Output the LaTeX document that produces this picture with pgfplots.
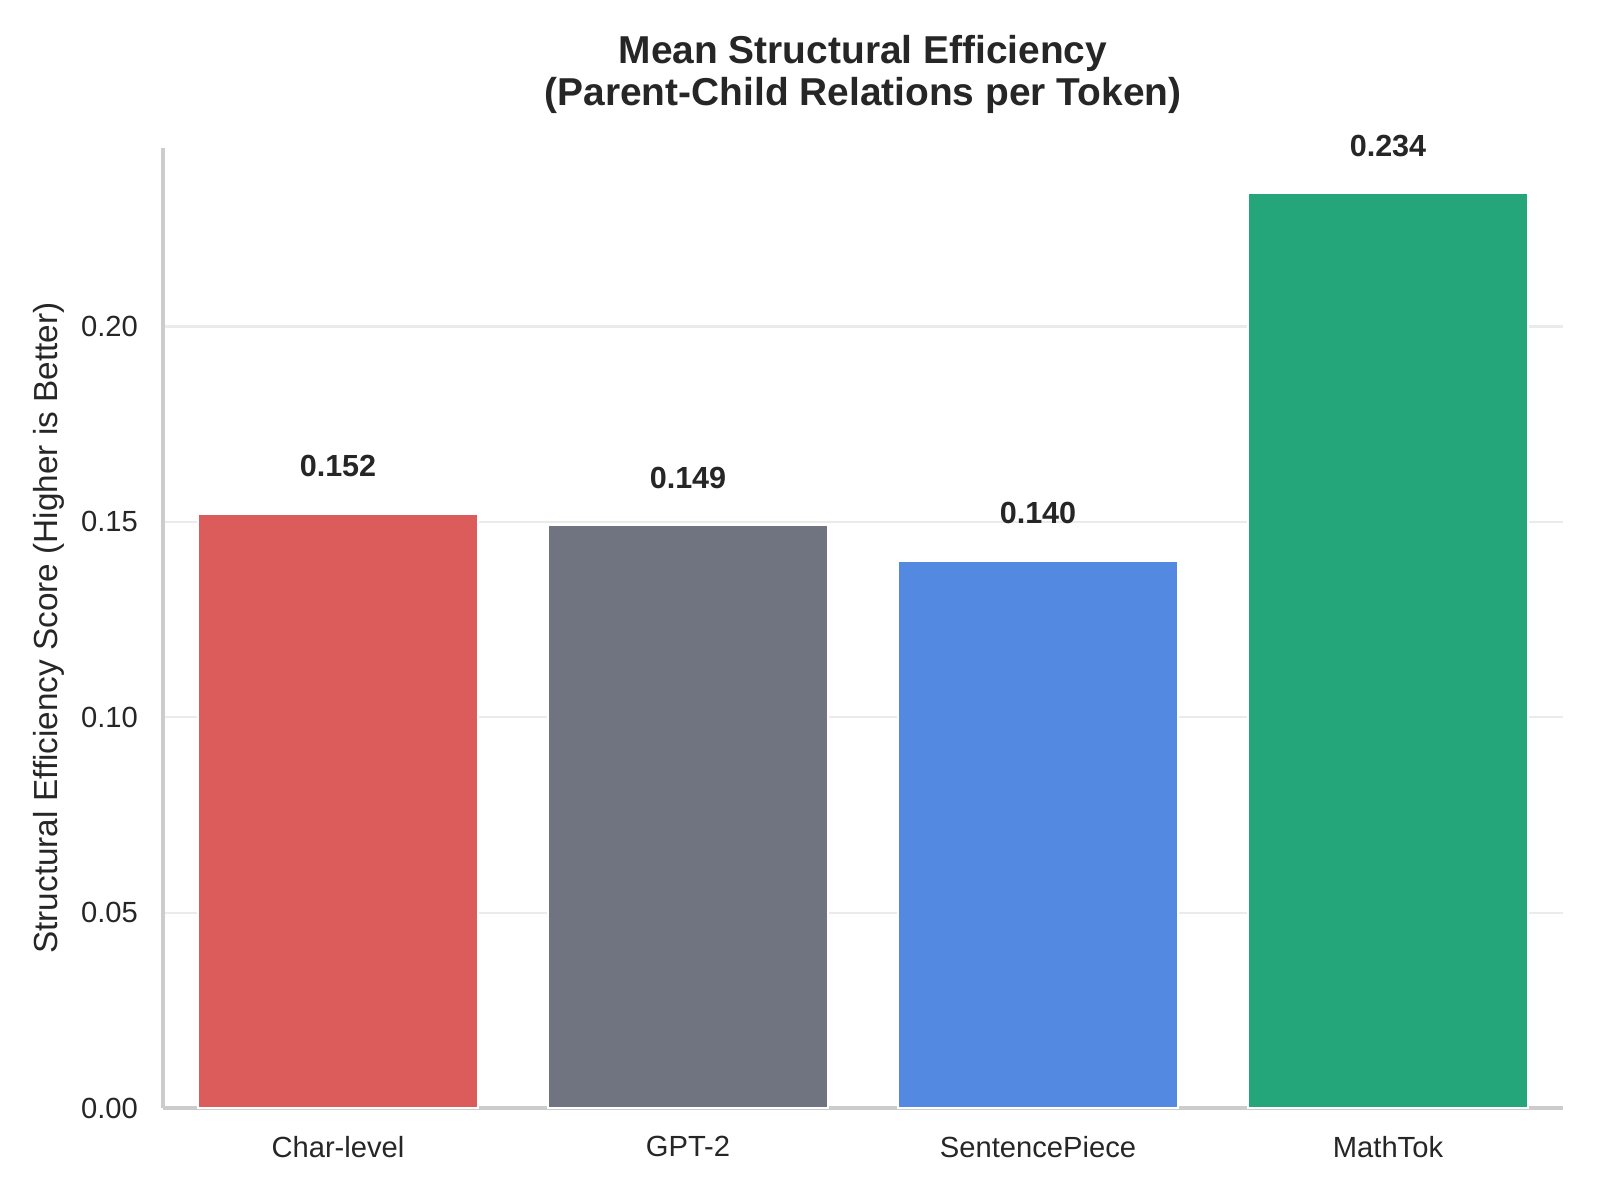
\documentclass[border=0pt]{standalone}
\usepackage{fontspec}
\setmainfont{Liberation Sans}
\usepackage{pgfplots}
\pgfplotsset{compat=1.18}

\definecolor{barRed}{RGB}{220,91,91}
\definecolor{barGray}{RGB}{111,116,128}
\definecolor{barBlue}{RGB}{83,137,224}
\definecolor{barGreen}{RGB}{36,165,122}
\definecolor{spine}{RGB}{204,204,204}
\definecolor{gridc}{RGB}{235,235,235}
\definecolor{txt}{RGB}{38,38,38}

\begin{document}
\begin{tikzpicture}
\path[use as bounding box] (0,0) rectangle (576pt,432pt);
\begin{axis}[
  at={(58.68pt,33.12pt)}, anchor=south west,
  scale only axis, width=504pt, height=345.6pt,
  xmin=-0.5, xmax=3.5, ymin=0, ymax=0.2457,
  axis x line*=bottom, axis y line*=left,
  axis line style={draw=spine, line width=1.2pt, -},
  xtick={0,1,2,3},
  xticklabels={Char-level,GPT-2,SentencePiece,MathTok},
  ytick={0,0.05,0.10,0.15,0.20},
  yticklabel style={/pgf/number format/fixed, /pgf/number format/fixed zerofill,
    /pgf/number format/precision=2, xshift=-5.5pt},
  /pgf/number format/assume math mode=true,
  tick style={draw=none}, major tick length=0pt,
  ticklabel style={font=\fontsize{10.5}{12}\selectfont, text=txt},
  xticklabel style={yshift=-6.6pt},
  ymajorgrids, major grid style={draw=gridc, line width=0.8pt},
  ylabel={Structural Efficiency Score (Higher is Better)},
  every axis y label/.style={at={(axis description cs:-0.0813,0.5)}, rotate=90,
    anchor=center, font=\fontsize{12}{14}\selectfont, text=txt},
  title={Mean Structural Efficiency\\(Parent-Child Relations per Token)},
  every axis title/.style={at={(axis description cs:0.5,1)}, anchor=south,
    yshift=12.3pt, inner sep=0pt, align=center,
    font=\bfseries\fontsize{14}{15.1}\selectfont, text=txt},
  ybar, bar width=0.8, bar shift=0pt,
  nodes near coords={\pgfmathprintnumber[fixed,fixed zerofill,precision=3,assume math mode=true]{\pgfplotspointmeta}},
  nodes near coords style={anchor=south, inner sep=0pt, yshift=13.1pt,
    font=\bfseries\fontsize{11}{13}\selectfont, text=txt},
  point meta=y,
]
\addplot[fill=barRed, draw=white, line width=0.4pt] coordinates {(0,0.152)};
\addplot[fill=barGray, draw=white, line width=0.4pt] coordinates {(1,0.149)};
\addplot[fill=barBlue, draw=white, line width=0.4pt] coordinates {(2,0.140)};
\addplot[fill=barGreen, draw=white, line width=0.4pt] coordinates {(3,0.234)};
\end{axis}
\end{tikzpicture}
\end{document}
